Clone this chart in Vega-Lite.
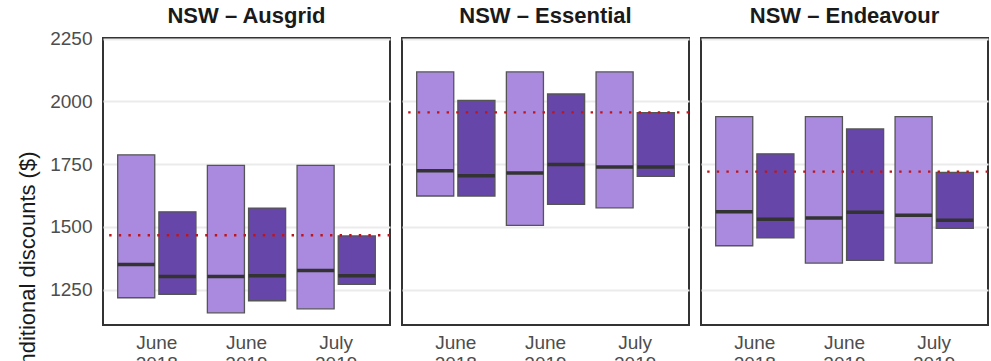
{
  "$schema": "https://vega.github.io/schema/vega-lite/v6.json",
  "padding": {"left": 16, "top": 5, "right": 0, "bottom": 0},
  "background": "white",
  "bounds": "flush",
  "data": {
    "values": [
      {"provider": "NSW – Ausgrid", "period": "June 2018", "offer": "Standing offers", "lower": 1218, "upper": 1787, "median": 1350, "ref": 1467},
      {"provider": "NSW – Ausgrid", "period": "June 2018", "offer": "Market offers", "lower": 1232, "upper": 1560, "median": 1303, "ref": 1467},
      {"provider": "NSW – Ausgrid", "period": "June 2019", "offer": "Standing offers", "lower": 1158, "upper": 1745, "median": 1303, "ref": 1467},
      {"provider": "NSW – Ausgrid", "period": "June 2019", "offer": "Market offers", "lower": 1206, "upper": 1575, "median": 1306, "ref": 1467},
      {"provider": "NSW – Ausgrid", "period": "July 2019", "offer": "Standing offers", "lower": 1174, "upper": 1745, "median": 1326, "ref": 1467},
      {"provider": "NSW – Ausgrid", "period": "July 2019", "offer": "Market offers", "lower": 1271, "upper": 1464, "median": 1306, "ref": 1467},
      {"provider": "NSW – Essential", "period": "June 2018", "offer": "Standing offers", "lower": 1623, "upper": 2117, "median": 1724, "ref": 1956},
      {"provider": "NSW – Essential", "period": "June 2018", "offer": "Market offers", "lower": 1623, "upper": 2004, "median": 1704, "ref": 1956},
      {"provider": "NSW – Essential", "period": "June 2019", "offer": "Standing offers", "lower": 1506, "upper": 2117, "median": 1715, "ref": 1956},
      {"provider": "NSW – Essential", "period": "June 2019", "offer": "Market offers", "lower": 1590, "upper": 2029, "median": 1748, "ref": 1956},
      {"provider": "NSW – Essential", "period": "July 2019", "offer": "Standing offers", "lower": 1576, "upper": 2117, "median": 1738, "ref": 1956},
      {"provider": "NSW – Essential", "period": "July 2019", "offer": "Market offers", "lower": 1701, "upper": 1955, "median": 1738, "ref": 1956},
      {"provider": "NSW – Endeavour", "period": "June 2018", "offer": "Standing offers", "lower": 1425, "upper": 1939, "median": 1560, "ref": 1720},
      {"provider": "NSW – Endeavour", "period": "June 2018", "offer": "Market offers", "lower": 1456, "upper": 1791, "median": 1530, "ref": 1720},
      {"provider": "NSW – Endeavour", "period": "June 2019", "offer": "Standing offers", "lower": 1356, "upper": 1939, "median": 1535, "ref": 1720},
      {"provider": "NSW – Endeavour", "period": "June 2019", "offer": "Market offers", "lower": 1367, "upper": 1890, "median": 1558, "ref": 1720},
      {"provider": "NSW – Endeavour", "period": "July 2019", "offer": "Standing offers", "lower": 1356, "upper": 1939, "median": 1546, "ref": 1720},
      {"provider": "NSW – Endeavour", "period": "July 2019", "offer": "Market offers", "lower": 1494, "upper": 1717, "median": 1526, "ref": 1720}
    ]
  },
  "facet": {
    "column": {
      "field": "provider",
      "type": "nominal",
      "sort": ["NSW – Ausgrid", "NSW – Essential", "NSW – Endeavour"],
      "header": {
        "title": null,
        "labelFont": "Liberation Sans",
        "labelFontSize": 22,
        "labelFontWeight": "bold",
        "labelColor": "#1a1a1a",
        "labelPadding": 10
      }
    }
  },
  "spacing": 12,
  "spec": {
    "width": 287,
    "height": 287,
    "layer": [
      {
        "mark": {"type": "bar", "stroke": "#555555", "strokeWidth": 1.3},
        "encoding": {
          "x": {
            "field": "period",
            "type": "nominal",
            "sort": ["June 2018", "June 2019", "July 2019"],
            "scale": {"paddingInner": 0.1, "paddingOuter": 0.15},
            "axis": {
              "title": null,
              "labelAngle": 0,
              "labelExpr": "split(datum.label, ' ')",
              "labelFont": "Liberation Sans",
              "labelFontSize": 19,
              "labelColor": "#4d4d4d",
              "labelLineHeight": 21,
              "labelPadding": 8,
              "ticks": false,
              "domain": false,
              "grid": false
            }
          },
          "xOffset": {
            "field": "offer",
            "type": "nominal",
            "sort": ["Standing offers", "Market offers"],
            "scale": {"paddingInner": 0.1, "paddingOuter": 0.03}
          },
          "y": {
            "field": "lower",
            "type": "quantitative",
            "scale": {"domain": [1109.5, 2252], "nice": false, "zero": false},
            "axis": {
              "title": "Annual bill with conditional discounts ($)",
              "values": [1250, 1500, 1750, 2000, 2250],
              "format": "d",
              "titleFont": "Liberation Sans",
              "titleFontSize": 22,
              "titleFontWeight": "normal",
              "titleColor": "#1a1a1a",
              "titleAlign": "right",
              "titleY": 113,
              "titlePadding": 10,
              "labelFont": "Liberation Sans",
              "labelFontSize": 19,
              "labelColor": "#4d4d4d",
              "labelPadding": 11,
              "ticks": false,
              "domain": false,
              "grid": true,
              "gridColor": "#ebebeb",
              "gridWidth": 2
            }
          },
          "y2": {"field": "upper"},
          "fill": {
            "field": "offer",
            "type": "nominal",
            "sort": ["Standing offers", "Market offers"],
            "scale": {"range": ["#a98ade", "#6646a8"]},
            "legend": null
          },
          "fillOpacity": {"value": 1}
        }
      },
      {
        "mark": {"type": "tick", "color": "#333333", "thickness": 3.5, "size": 37, "opacity": 1},
        "encoding": {
          "x": {
            "field": "period",
            "type": "nominal",
            "sort": ["June 2018", "June 2019", "July 2019"]
          },
          "xOffset": {
            "field": "offer",
            "type": "nominal",
            "sort": ["Standing offers", "Market offers"],
            "scale": {"paddingInner": 0.1, "paddingOuter": 0.03}
          },
          "y": {"field": "median", "type": "quantitative"}
        }
      },
      {
        "mark": {"type": "rule", "color": "#c0141c", "strokeWidth": 2.4, "strokeDash": [2.4, 7.2]},
        "encoding": {
          "y": {"aggregate": "max", "field": "ref", "type": "quantitative"}
        }
      }
    ]
  },
  "resolve": {"scale": {"y": "shared"}},
  "config": {
    "view": {"stroke": "#333333", "strokeWidth": 2},
    "font": "Liberation Sans"
  }
}
